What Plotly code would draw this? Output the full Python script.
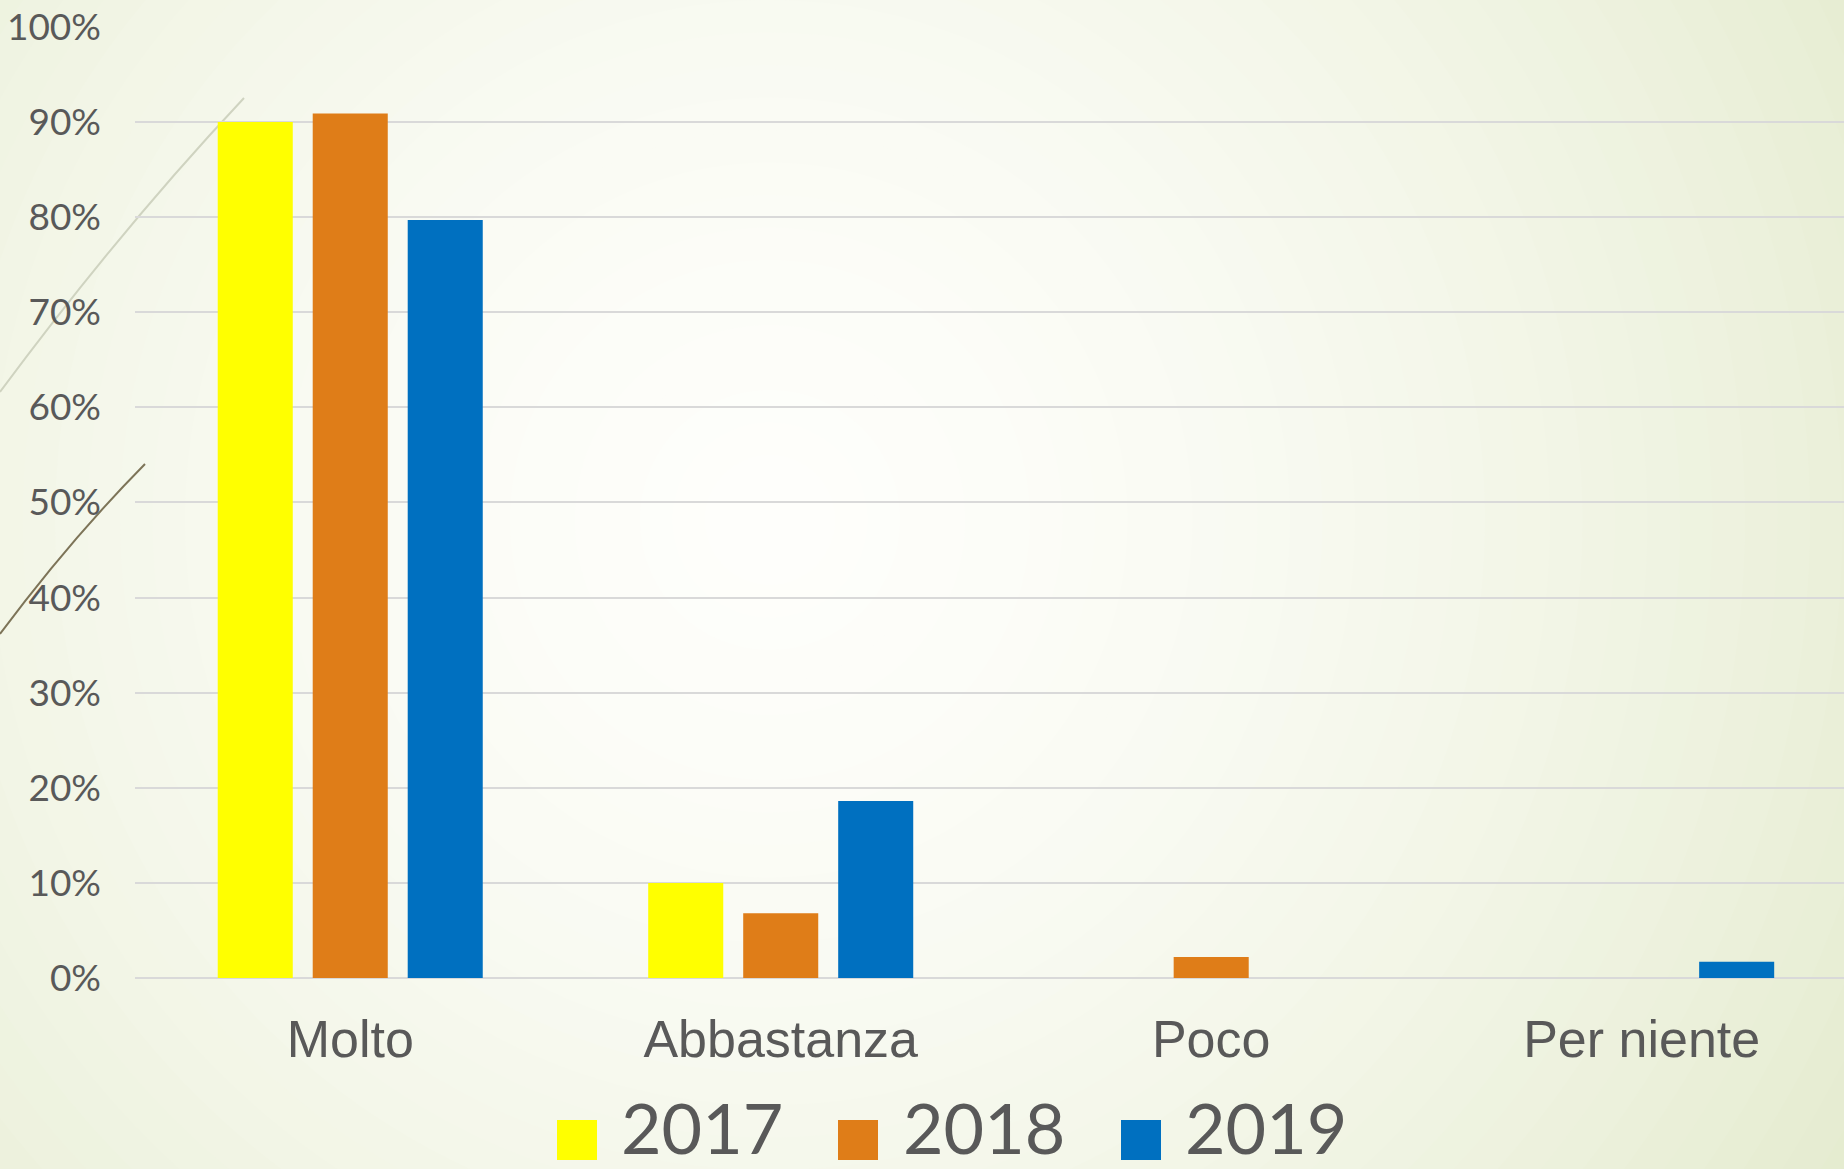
import plotly.graph_objects as go

categories = ["Molto", "Abbastanza", "Poco", "Per niente"]
years = ["2017", "2018", "2019"]
v2017 = [90.0, 10.0, 0, 0]
v2018 = [90.9, 6.8, 2.2, 0]
v2019 = [79.7, 18.6, 0, 1.7]
series = [v2017, v2018, v2019]
colors = ["#FFFF00", "#DF7D18", "#0070C0"]
y_ticks = list(range(0, 101, 10))

W, H = 1844, 1169
ML, MR, MT, MB = 135, 0, 26, 191
PW, PH = W - ML - MR, H - MT - MB


def px(x):
    return (x - ML) / PW


def py(y):
    return (H - MB - y) / PH


fig = go.Figure()
for name, vals, col in zip(years, series, colors):
    fig.add_trace(go.Bar(x=categories, y=vals, name=name, marker_color=col,
                         marker_line_width=0, showlegend=False))

shapes = []
# radial background gradient
cx, cy = 770, 520
R = 1300
steps = 40
c_edge = (228, 235, 206)
c_center = (254, 254, 251)
for i in range(steps, 0, -1):
    t = i / steps
    r = R * t
    f = t ** 1.6
    col = tuple(int(round(c_center[k] + (c_edge[k] - c_center[k]) * f)) for k in range(3))
    shapes.append(dict(type="circle", xref="paper", yref="paper",
                       x0=px(cx - r), x1=px(cx + r), y0=py(cy + r), y1=py(cy - r),
                       fillcolor="rgb(%d,%d,%d)" % col, line_width=0, layer="below"))

# decorative lines
def path(pts):
    d = "M %f,%f" % (px(pts[0][0]), py(pts[0][1]))
    d += " Q %f,%f %f,%f" % (px(pts[1][0]), py(pts[1][1]), px(pts[2][0]), py(pts[2][1]))
    return d

shapes.append(dict(type="path", xref="paper", yref="paper",
                   path=path([(244, 98), (120, 230), (0, 392)]),
                   line=dict(color="#cfd3c0", width=2), layer="below"))
shapes.append(dict(type="path", xref="paper", yref="paper",
                   path=path([(145, 464), (70, 540), (0, 634)]),
                   line=dict(color="#7d7458", width=2), layer="below"))

# legend swatches
sw = [557, 838, 1121]
tx = [619, 901, 1183]
annotations = []
for x0, t, name, col in zip(sw, tx, years, colors):
    shapes.append(dict(type="rect", xref="paper", yref="paper",
                       x0=px(x0), x1=px(x0 + 40), y0=py(1160), y1=py(1120),
                       fillcolor=col, line_width=0))
    annotations.append(dict(xref="paper", yref="paper", x=px(t), y=py(1127),
                            xanchor="left", yanchor="middle", text=name, showarrow=False,
                            font=dict(family="Lato", size=70, color="#595959")))

fig.update_layout(
    width=W, height=H,
    margin=dict(l=ML, r=MR, t=MT, b=MB),
    paper_bgcolor="rgb(228,235,206)",
    plot_bgcolor="rgba(0,0,0,0)",
    barmode="group",
    bargap=0.338,
    bargroupgap=0.21,
    shapes=shapes,
    annotations=annotations,
    showlegend=False,
    xaxis=dict(range=[-0.5, 3.47], showgrid=False, zeroline=False, showline=False,
               tickfont=dict(family="Liberation Sans", size=52, color="#595959"),
               ticks="", ticklabelstandoff=26),
    yaxis=dict(range=[0, 100.1], tickvals=y_ticks, ticktext=[f"{v}%" for v in y_ticks],
               showgrid=True, gridcolor="#d9d9d9", gridwidth=2,
               zeroline=True, zerolinecolor="#d9d9d9", zerolinewidth=2,
               showline=False, ticks="",
               tickfont=dict(family="Lato", size=37, color="#595959"),
               ticklabelstandoff=33),
)

fig.write_html("out.html", config={"displayModeBar": False},
               post_script="document.body.style.margin='0';document.body.style.overflow='hidden';")
